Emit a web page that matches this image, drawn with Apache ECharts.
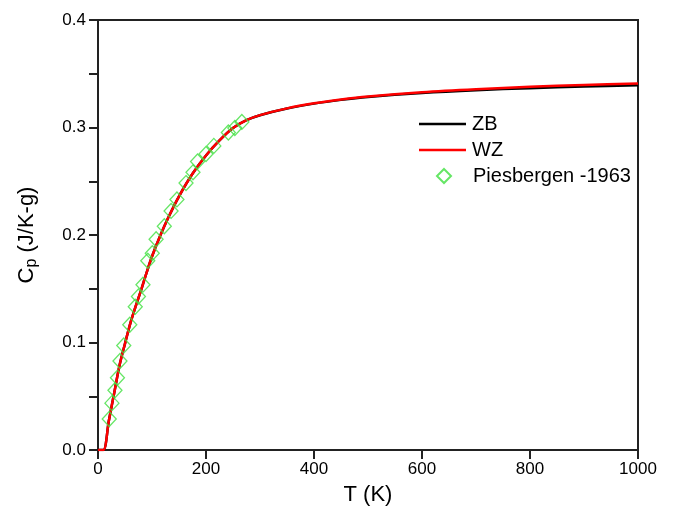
<!DOCTYPE html>
<html>
<head>
<meta charset="utf-8">
<script src="https://cdn.jsdelivr.net/npm/echarts@6/dist/echarts.min.js"></script>
<style>
html,body{margin:0;padding:0;background:#fff;}
#chart{width:675px;height:511px;}
</style>
</head>
<body>
<div id="chart"></div>
<script>
var curveT = [0, 10, 20, 30, 40, 50, 60, 70, 80, 90, 100, 115, 130, 150, 175, 200, 225, 250, 275, 300, 350, 400, 450, 500, 600, 700, 800, 900, 1000];
var wzCp  = [0, 0, 0.027, 0.053, 0.079, 0.099, 0.118, 0.134, 0.149, 0.165, 0.180, 0.199, 0.216, 0.236, 0.257, 0.274, 0.288, 0.2995, 0.3068, 0.3115, 0.3178, 0.3225, 0.3261, 0.3289, 0.3328, 0.3356, 0.3378, 0.3396, 0.341];
var zbCp  = [0, 0, 0.027, 0.053, 0.079, 0.099, 0.118, 0.134, 0.149, 0.165, 0.180, 0.199, 0.216, 0.236, 0.257, 0.274, 0.288, 0.2995, 0.3068, 0.3114, 0.3176, 0.3222, 0.3257, 0.3284, 0.3321, 0.3347, 0.3366, 0.3381, 0.3392];
var expT  = [20.8, 25.8, 31.4, 36.0, 40.7, 47.7, 58.8, 69.0, 74.9, 83.3, 92.2, 100.5, 107.6, 122.8, 135.3, 146.2, 163.0, 175.9, 184.4, 200.0, 214.5, 241.4, 253.4, 266.4];
var expCp = [0.0288, 0.0436, 0.0556, 0.0672, 0.0828, 0.0972, 0.1165, 0.1333, 0.1428, 0.1538, 0.1761, 0.1831, 0.1961, 0.2081, 0.2224, 0.2331, 0.2483, 0.2583, 0.2684, 0.2753, 0.2829, 0.2953, 0.2995, 0.3052];
var xTicks = {min: 0, max: 1000, interval: 200};
var yTicks = {min: 0, max: 0.4, interval: 0.1};

function pairs(xs, ys){ return xs.map(function(x,i){ return [x, ys[i]]; }); }

var chart = echarts.init(document.getElementById('chart'), null, {renderer:'canvas'});
var font = 'Liberation Sans, Arial, sans-serif';
var axisCol = '#222';
var lineIcon = 'path://M0,0 L47,0 L47,2.5 L0,2.5 Z';
chart.setOption({
  animation: false,
  backgroundColor: '#fff',
  textStyle: {fontFamily: font, color: '#000'},
  grid: {left: 98, right: 37, top: 20, bottom: 56, show: true, borderColor: axisCol, borderWidth: 2, backgroundColor: 'transparent'},
  legend: [{
    orient: 'vertical', left: 419, top: 113, padding: 0, itemWidth: 47, itemHeight: 2.5, itemGap: 4,
    textStyle: {fontFamily: font, fontSize: 20, color: '#000', lineHeight: 22, padding: [0,0,0,1]},
    data: [{name: 'ZB', icon: lineIcon}, {name: 'WZ', icon: lineIcon}]
  }, {
    orient: 'vertical', left: 436, top: 165, padding: 0, itemWidth: 14, itemHeight: 14, itemGap: 4,
    textStyle: {fontFamily: font, fontSize: 20, color: '#000', lineHeight: 22, padding: [0,0,0,17]},
    data: ['Piesbergen -1963']
  }],
  xAxis: {
    type: 'value', min: xTicks.min, max: xTicks.max, interval: xTicks.interval,
    name: 'T (K)', nameLocation: 'middle', nameGap: 34,
    nameTextStyle: {fontFamily: font, fontSize: 22, color: '#000'},
    axisLine: {show: true, onZero: false, lineStyle: {color: axisCol, width: 2}},
    axisTick: {show: true, inside: false, length: 9, lineStyle: {color: axisCol, width: 2}},
    axisLabel: {fontFamily: font, fontSize: 17, color: '#000', margin: 11,
      formatter: function(v){ return String(v); }},
    splitLine: {show: false}
  },
  yAxis: {
    type: 'value', min: yTicks.min, max: yTicks.max, interval: yTicks.interval,
    name: '{c|C}{s|p}{c| (J/K-g)}', nameLocation: 'middle', nameGap: 58, nameRotate: 90,
    nameTextStyle: {fontFamily: font, fontSize: 22, color: '#000',
      rich: {c: {fontFamily: font, fontSize: 22, color: '#000'},
             s: {fontFamily: font, fontSize: 16, color: '#000', verticalAlign: 'bottom', padding: [10,0,0,0]}}},
    axisLine: {show: true, onZero: false, lineStyle: {color: axisCol, width: 2}},
    axisTick: {show: true, inside: false, length: 9, lineStyle: {color: axisCol, width: 2}},
    minorTick: {show: true, splitNumber: 2, length: 9, lineStyle: {color: axisCol, width: 2}},
    axisLabel: {fontFamily: font, fontSize: 17, color: '#000', margin: 12,
      formatter: function(v){ return v.toFixed(1); }},
    splitLine: {show: false}
  },
  series: [
    {name: 'ZB', type: 'line', data: pairs(curveT, zbCp), symbol: 'none', smooth: 0.3,
     lineStyle: {color: '#000', width: 2.5}, itemStyle: {color: '#000'}, z: 2},
    {name: 'WZ', type: 'line', data: pairs(curveT, wzCp), symbol: 'none', smooth: 0.3,
     lineStyle: {color: '#ff0000', width: 2.5}, itemStyle: {color: '#ff0000'}, z: 3},
    {name: 'Piesbergen -1963', type: 'scatter', data: pairs(expT, expCp), symbol: 'diamond', symbolSize: [14, 15],
     itemStyle: {color: 'rgba(255,255,255,0)', borderColor: '#3fe03f', borderWidth: 1.3}, z: 4}
  ]
});
</script>
</body>
</html>
